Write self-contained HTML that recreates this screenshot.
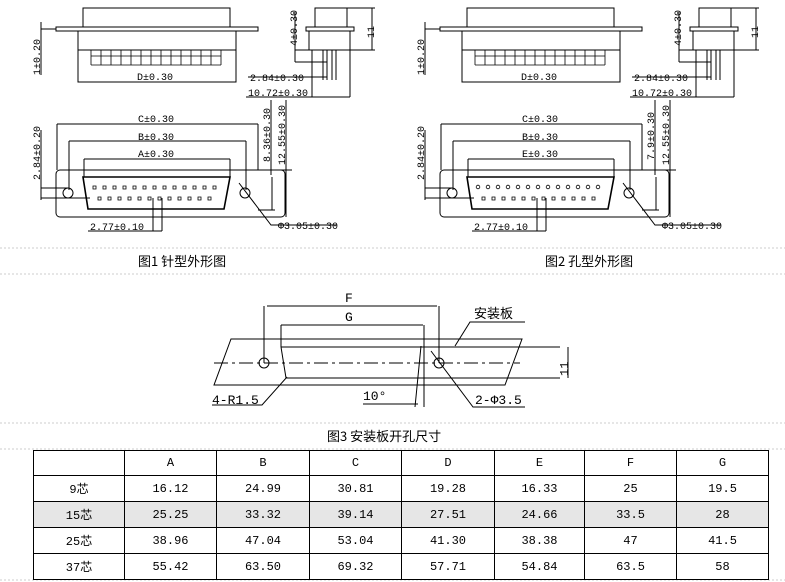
<!DOCTYPE html>
<html><head><meta charset="utf-8"><style>
html,body{margin:0;padding:0;background:#fff;}
svg{display:block;font-family:"Liberation Mono","Noto Sans CJK SC",monospace;}
td{border:1px solid #000;text-align:center;font-size:12px;font-family:"Liberation Mono","Noto Sans CJK SC",monospace;padding:0;}
</style></head><body>
<div style="position:relative;width:785px;height:582px;overflow:hidden">
<svg width="785" height="582" viewBox="0 0 785 582" style="position:absolute;left:0;top:0">
<defs>
<g id="fig" stroke="#000" fill="none" stroke-width="1">
 <!-- top view -->
 <rect x="83" y="8" width="147" height="19"/>
 <rect x="56" y="27" width="202" height="4"/>
 <rect x="78" y="31" width="158" height="51"/>
 <line x1="78" y1="50" x2="236" y2="50"/>
 <g stroke-width="0.8">
  <path d="M91 50 V65 M101 50 V65 M111 50 V65 M121 50 V65 M131 50 V65 M141 50 V65 M151 50 V65 M161 50 V65 M171 50 V65 M181 50 V65 M191 50 V65 M201 50 V65 M211 50 V65 M221 50 V65 M91 65 H221 M91 56 H221"/>
 </g>
 <line x1="41" y1="22" x2="41" y2="75"/>
 <line x1="41" y1="29" x2="56" y2="29"/>
 <!-- side view -->
 <rect x="315" y="8" width="32" height="19"/>
 <rect x="306" y="27" width="48" height="4"/>
 <rect x="309" y="31" width="41" height="19"/>
 <path d="M323 50 V80 M327 50 V80 M332 50 V80 M336 50 V80"/>
 <path d="M347 8 H375 M350 50 H375 M372 8 V50"/>
 <path d="M295 50 H309 M295 62 H327 M295 12 V62"/>
 <path d="M248 77 H327 M246 97 H350 M312 50 V97 M350 50 V97"/>
 <!-- bottom view -->
 <rect x="56" y="170" width="229" height="47" rx="4"/>
 <path d="M83 177 H230 L224 209 H88 Z" stroke-width="1.6"/>
 <circle cx="68" cy="193" r="5"/>
 <circle cx="245" cy="193" r="5"/>
 <path d="M57 124 H258 M57 124 V170 M258 124 V170"/>
 <path d="M69 141 H246 M69 141 V190 M246 141 V190"/>
 <path d="M84 159 H230 M84 159 V177 M230 159 V177"/>
 <path d="M258 170 H292 M258 210 H275 M272 177 V210 M286 100 V217 M271 100 V175"/>
 <path d="M41 130 V200 M41 188 H68 M41 198 H90"/>
 <path d="M88 231 H162 M153 198 V231 M162 198 V231"/>
 <path d="M239 183 L271 225 H337"/>
</g>
</defs>
<use href="#fig"/>
<use href="#fig" transform="translate(384,0)"/>
<g fill="#000" stroke="none">
 <!-- fig1 pins -->
 <g font-size="0">
 </g>
</g>
<g stroke="#000" fill="none" stroke-width="0.8">
 <path d="M93 186h3v3h-3z M103 186h3v3h-3z M113 186h3v3h-3z M123 186h3v3h-3z M133 186h3v3h-3z M143 186h3v3h-3z M153 186h3v3h-3z M163 186h3v3h-3z M173 186h3v3h-3z M183 186h3v3h-3z M193 186h3v3h-3z M203 186h3v3h-3z M213 186h3v3h-3z"/>
 <path d="M98 197h3v3h-3z M108 197h3v3h-3z M118 197h3v3h-3z M128 197h3v3h-3z M138 197h3v3h-3z M148 197h3v3h-3z M158 197h3v3h-3z M168 197h3v3h-3z M178 197h3v3h-3z M188 197h3v3h-3z M198 197h3v3h-3z M208 197h3v3h-3z"/>
 <g transform="translate(384,0)">
 <circle cx="94" cy="187" r="1.8"/><circle cx="104" cy="187" r="1.8"/><circle cx="114" cy="187" r="1.8"/><circle cx="124" cy="187" r="1.8"/><circle cx="134" cy="187" r="1.8"/><circle cx="144" cy="187" r="1.8"/><circle cx="154" cy="187" r="1.8"/><circle cx="164" cy="187" r="1.8"/><circle cx="174" cy="187" r="1.8"/><circle cx="184" cy="187" r="1.8"/><circle cx="194" cy="187" r="1.8"/><circle cx="204" cy="187" r="1.8"/><circle cx="214" cy="187" r="1.8"/>
 <path d="M98 197h3v3h-3z M108 197h3v3h-3z M118 197h3v3h-3z M128 197h3v3h-3z M138 197h3v3h-3z M148 197h3v3h-3z M158 197h3v3h-3z M168 197h3v3h-3z M178 197h3v3h-3z M188 197h3v3h-3z M198 197h3v3h-3z M208 197h3v3h-3z"/>
 </g>
</g>
<g font-size="10" fill="#000">
 <text x="137" y="80">D±0.30</text><text x="521" y="80">D±0.30</text>
 <text x="250" y="81">2.84±0.30</text><text x="634" y="81">2.84±0.30</text>
 <text x="248" y="96">10.72±0.30</text><text x="632" y="96">10.72±0.30</text>
 <text x="138" y="122">C±0.30</text><text x="522" y="122">C±0.30</text>
 <text x="138" y="140">B±0.30</text><text x="522" y="140">B±0.30</text>
 <text x="138" y="157">A±0.30</text><text x="522" y="157">E±0.30</text>
 <text x="90" y="230">2.77±0.10</text><text x="474" y="230">2.77±0.10</text>
 <text x="278" y="229">Φ3.05±0.30</text><text x="662" y="229">Φ3.05±0.30</text>
 <g transform="rotate(-90)">
  <text x="-75" y="40">1±0.20</text><text x="-75" y="424">1±0.20</text>
  <text x="-46" y="297">4±0.30</text><text x="-46" y="681">4±0.30</text>
  <text x="-38" y="374">11</text><text x="-38" y="758">11</text>
  <text x="-180" y="40">2.84±0.20</text><text x="-180" y="424">2.84±0.20</text>
  <text x="-162" y="270">8.36±0.30</text><text x="-160" y="654">7.9±0.30</text>
  <text x="-165" y="285">12.55±0.30</text><text x="-165" y="669">12.55±0.30</text>
  <text x="-376" y="568" font-size="12">11</text>
 </g>
</g>
<g stroke="#ccc" stroke-dasharray="2,2" stroke-width="1">
 <line x1="0" y1="248" x2="785" y2="248"/><line x1="0" y1="274" x2="785" y2="274"/>
 <line x1="0" y1="423" x2="785" y2="423"/><line x1="0" y1="449" x2="785" y2="449"/>
 <line x1="0" y1="580" x2="785" y2="580"/>
</g>
<g font-size="13" fill="#000" font-family="'Noto Sans CJK SC',sans-serif">
 <text x="138" y="266">图1 针型外形图</text>
 <text x="545" y="266">图2 孔型外形图</text>
 <text x="327" y="441">图3 安装板开孔尺寸</text>
</g>
<!-- fig3 -->
<g stroke="#000" fill="none" stroke-width="1">
 <path d="M231 339 H522 L505 385 H214 Z"/>
 <path d="M281 347 H560 M286 378 H560 M281 347 L286 378"/>
 <path d="M214 363 H520" stroke-dasharray="14,4,3,4"/>
 <circle cx="264" cy="363" r="5"/><circle cx="439" cy="363" r="5"/>
 <path d="M264 306 V363 M439 306 V363 M267 306 H437 M281 325 H423 M281 325 V347 M424 325 V407"/>
 <path d="M568 347 V378"/>
 <path d="M455 346 L470 322 H525"/>
 <path d="M431 351 L473 407 H525"/>
 <path d="M287 377 L262 405 H212"/>
 <path d="M421 346 L415 407 M363 404 H418"/>
</g>
<g font-size="13" fill="#000">
 <text x="345" y="302">F</text><text x="345" y="321">G</text>
 <text x="474" y="318" font-family="'Noto Sans CJK SC',sans-serif">安装板</text>
 <text x="212" y="404">4-R1.5</text>
 <text x="363" y="400">10°</text>
 <text x="475" y="404">2-Φ3.5</text>
</g>
</svg>
<table style="position:absolute;left:33px;top:450px;width:736px;height:128px;border-collapse:collapse;table-layout:fixed">
<colgroup><col style="width:91px"><col style="width:92px"><col style="width:93px"><col style="width:92px"><col style="width:93px"><col style="width:90px"><col style="width:92px"><col style="width:92px"></colgroup>
<tr style="height:25px"><td></td><td>A</td><td>B</td><td>C</td><td>D</td><td>E</td><td>F</td><td>G</td></tr>
<tr style="height:26px"><td>9芯</td><td>16.12</td><td>24.99</td><td>30.81</td><td>19.28</td><td>16.33</td><td>25</td><td>19.5</td></tr>
<tr style="height:26px;background:#e6e6e6"><td>15芯</td><td>25.25</td><td>33.32</td><td>39.14</td><td>27.51</td><td>24.66</td><td>33.5</td><td>28</td></tr>
<tr style="height:26px"><td>25芯</td><td>38.96</td><td>47.04</td><td>53.04</td><td>41.30</td><td>38.38</td><td>47</td><td>41.5</td></tr>
<tr style="height:26px"><td>37芯</td><td>55.42</td><td>63.50</td><td>69.32</td><td>57.71</td><td>54.84</td><td>63.5</td><td>58</td></tr>
</table>
</div>
</body></html>
